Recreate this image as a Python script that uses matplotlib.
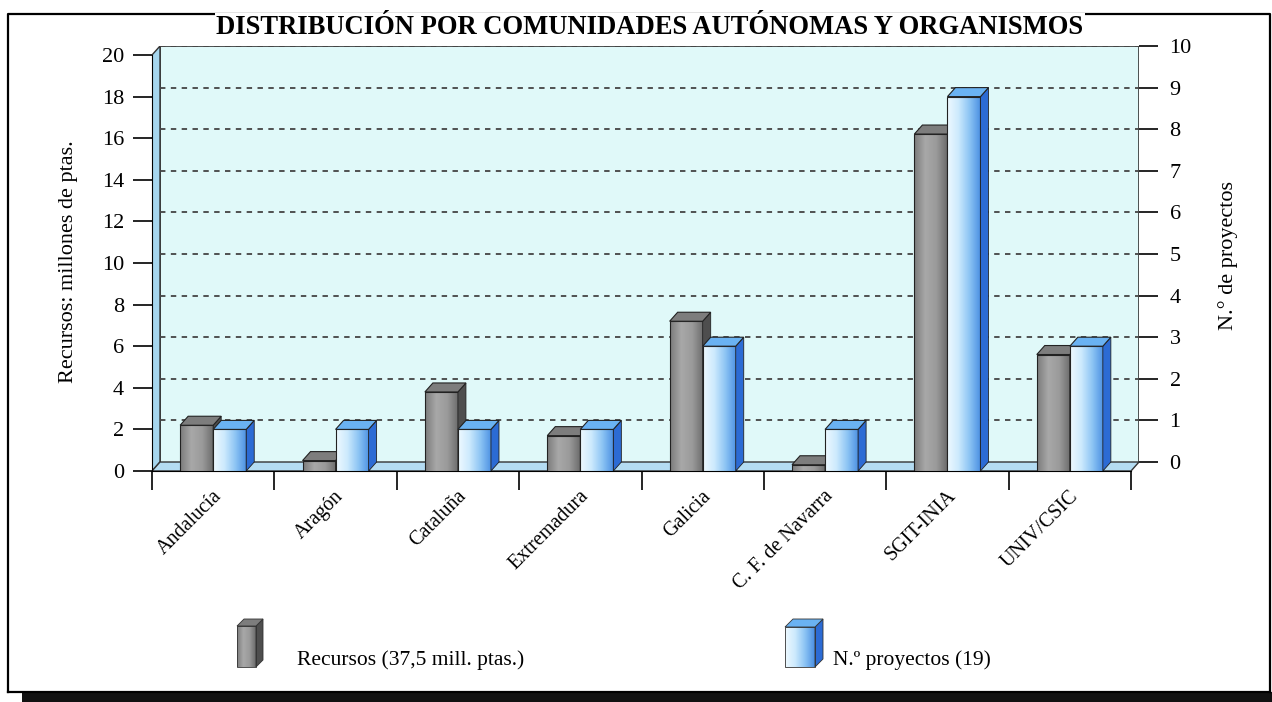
import numpy as np
import matplotlib
matplotlib.use("Agg")
from matplotlib import pyplot as plt
from matplotlib.patches import Polygon, Rectangle
from matplotlib.colors import to_rgb

plt.rcParams['font.family'] = ['Liberation Serif', 'DejaVu Serif']

# datos
categorias = ['Andalucía', 'Aragón', 'Cataluña', 'Extremadura', 'Galicia',
              'C. F. de Navarra', 'SGIT-INIA', 'UNIV/CSIC']
recursos = [2.2, 0.5, 3.8, 1.7, 7.2, 0.3, 16.2, 5.6]   # millones de ptas.
proyectos = [1, 1, 1, 1, 3, 1, 9, 3]                    # n.º de proyectos
ticks_izq = list(range(0, 21, 2))
ticks_der = list(range(0, 11))

W, H = 1272, 702
fig = plt.figure(figsize=(W / 100, H / 100), dpi=100)

# capa de fondo en pixeles (marco, titulo, leyenda)
bg = fig.add_axes([0, 0, 1, 1])
bg.set_xlim(0, W)
bg.set_ylim(H, 0)
bg.axis('off')

# ejes principales
px_l, px_r, px_b, px_t = 152, 1139, 471, 46
ax = fig.add_axes([px_l / W, (H - px_b) / H, (px_r - px_l) / W, (px_b - px_t) / H])
ax.patch.set_alpha(0)
n = len(categorias)
cat_px = (1131 - 152) / n
xmax = (px_r - px_l) / cat_px
ymax = (px_b - px_t) / 20.8
dx = 8 / cat_px
dy = 9 / 20.8

# pared del fondo, pared izquierda y suelo
ax.add_patch(Rectangle((dx, dy), xmax - dx, ymax - dy, fc='#e0f9f9', ec='none', zorder=0))
ax.plot([dx, dx, xmax, xmax], [dy, ymax, ymax, dy], color='#333333', lw=1.2, zorder=1)
ax.add_patch(Polygon([(0, 0), (dx, dy), (dx, ymax), (0, ymax - dy)],
                     fc='#a6d6ee', ec='#333333', lw=1, zorder=1))
ax.add_patch(Polygon([(0, 0), (n, 0), (xmax, dy), (dx, dy)],
                     fc='#b4dcf2', ec='#333333', lw=1, zorder=1))

# lineas de rejilla (valores del eje derecho)
for k in ticks_der[1:]:
    ax.plot([dx, xmax], [dy + 2 * k, dy + 2 * k], ls=(0, (3, 3)), color='#444444',
            lw=1.3, zorder=1)


def grad(cols, N=64):
    pos = np.linspace(0, 1, len(cols))
    rgb = np.array([to_rgb(c) for c in cols])
    t = np.linspace(0, 1, N)
    return np.stack([np.interp(t, pos, rgb[:, i]) for i in range(3)], axis=-1)[None, :, :]


grad_gris = grad(['#7c7c7c', '#a8a8a8', '#9a9a9a', '#6a6a6a'])
grad_azul = grad(['#eef9ff', '#cdeafd', '#8cc4f4', '#4a8fe2'])


def barra3d(x0, w, h, g, c_top, c_side, z):
    if h <= 0:
        return
    ax.imshow(g, extent=(x0, x0 + w, 0, h), aspect='auto', interpolation='bilinear', zorder=z)
    ax.add_patch(Rectangle((x0, 0), w, h, fc='none', ec='#222222', lw=0.8, zorder=z + 0.1))
    ax.add_patch(Polygon([(x0 + w, 0), (x0 + w + dx, dy), (x0 + w + dx, h + dy), (x0 + w, h)],
                         fc=c_side, ec='#222222', lw=0.6, zorder=z + 0.1))
    ax.add_patch(Polygon([(x0, h), (x0 + w, h), (x0 + w + dx, h + dy), (x0 + dx, h + dy)],
                         fc=c_top, ec='#222222', lw=0.8, zorder=z + 0.1))


bw = 0.27
for i in range(n):
    barra3d(i + 0.23, bw, recursos[i], grad_gris, '#7d7d7d', '#4e4e4e', 3 + i)
    barra3d(i + 0.50, bw, 2 * proyectos[i], grad_azul, '#6ab2f2', '#2c6bd4', 3.5 + i)

ax.set_xlim(0, xmax)
ax.set_ylim(0, ymax)

for s in ['top', 'right']:
    ax.spines[s].set_visible(False)
ax.spines['left'].set_bounds(0, 20)
ax.spines['bottom'].set_bounds(0, n)
ax.set_yticks(ticks_izq)
ax.set_xticks(range(n + 1))
ax.set_xticklabels([])
ax.tick_params(axis='both', direction='out', length=14, width=1.2, labelsize=16, pad=6)
for i, c in enumerate(categorias):
    ax.text(i + 0.5 - 0.01, -0.75, c, rotation=45, rotation_mode='anchor',
            ha='right', va='top', fontsize=14.5, clip_on=False)

# eje derecho
ax2 = ax.twinx()
ax2.patch.set_visible(False)
ax2.set_ylim(-dy / 2, ymax / 2 - dy / 2)
for s in ['top', 'left', 'bottom', 'right']:
    ax2.spines[s].set_visible(False)
ax2.set_yticks(ticks_der)
ax2.tick_params(axis='y', direction='out', length=14, width=1.2, labelsize=16, pad=8)

# etiquetas de ejes
bg.text(68, 262, 'Recursos: millones de ptas.', rotation=90, ha='center', va='center', fontsize=16)
bg.text(1228, 255, 'N.° de proyectos', rotation=90, ha='center', va='center', fontsize=16)

# marco
bg.plot([8, 8, 1270, 1270], [692, 14, 14, 692], color='black', lw=1.6)
bg.plot([8, 1270], [692, 692], color='black', lw=1.6)
bg.add_patch(Rectangle((22, 692), W - 22, 10, fc='#111111', ec='none'))

# titulo
bg.text(650, 27, 'DISTRIBUCIÓN POR COMUNIDADES AUTÓNOMAS Y ORGANISMOS', ha='center',
        va='center', fontsize=19.2, fontweight='bold',
        bbox=dict(fc='white', ec='none', pad=1))


# leyenda
def icono(x, y_top, w, h, d, g, c_top, c_side):
    bg.imshow(g, extent=(x, x + w, y_top + h, y_top), aspect='auto', interpolation='bilinear',
              zorder=5)
    bg.add_patch(Polygon([(x + w, y_top + h), (x + w + d, y_top + h - d), (x + w + d, y_top - d),
                          (x + w, y_top)], fc=c_side, ec='#333333', lw=0.6, zorder=6))
    bg.add_patch(Polygon([(x, y_top), (x + w, y_top), (x + w + d, y_top - d), (x + d, y_top - d)],
                         fc=c_top, ec='#333333', lw=0.6, zorder=6))
    bg.add_patch(Rectangle((x, y_top), w, h, fc='none', ec='#333333', lw=0.6, zorder=6))


icono(237, 626, 19, 41, 7, grad_gris, '#7d7d7d', '#4e4e4e')
bg.text(297, 660, 'Recursos (37,5 mill. ptas.)', ha='left', va='center', fontsize=15.5)
icono(785, 627, 30, 40, 8, grad_azul, '#6ab2f2', '#2c6bd4')
bg.text(833, 660, 'N.º proyectos (19)', ha='left', va='center', fontsize=15.5)
bg.set_xlim(0, W)
bg.set_ylim(H, 0)

plt.savefig('out.png', dpi=100)
